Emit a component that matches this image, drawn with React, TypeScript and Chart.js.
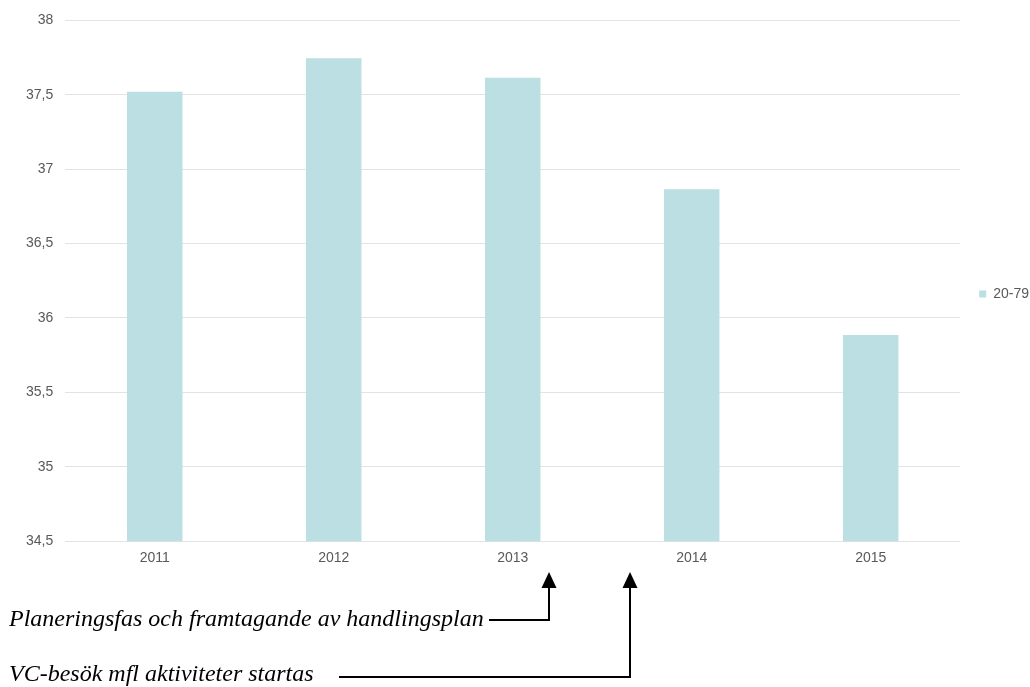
import React, { useEffect, useRef } from "react";
import { Chart, registerables } from "chart.js";

Chart.register(...registerables);

const categories = ["2011", "2012", "2013", "2014", "2015"];
const seriesName = "20-79";
const values = [37.52, 37.745, 37.615, 36.865, 35.885];
const yTicks = [34.5, 35, 35.5, 36, 36.5, 37, 37.5, 38];

const annotationTexts = [
  "Planeringsfas och framtagande av handlingsplan",
  "VC-besök mfl aktiviteter startas",
];
// arrow positions in category units (between 2013 and 2014)
const annotationAt = [2.205, 2.655];

const TEXT_COLOR = "#595959";
const FONT_FAMILY = "'Liberation Sans', Arial, sans-serif";

const annotationPlugin = {
  id: "annotations",
  afterDraw(chart: any) {
    const ctx = chart.ctx as CanvasRenderingContext2D;
    const xs = chart.scales.x;
    const x0 = xs.getPixelForValue(2);
    const x1 = xs.getPixelForValue(3);
    const layout = [
      { textY: 626, lineY: 620, lineStart: 489 },
      { textY: 681, lineY: 677, lineStart: 339 },
    ];
    const tipY = 572;
    ctx.save();
    ctx.font = "italic 24px 'Liberation Serif', 'Times New Roman', serif";
    ctx.fillStyle = "#000";
    ctx.strokeStyle = "#000";
    ctx.lineWidth = 2;
    annotationTexts.forEach((t, i) => {
      const L = layout[i];
      const at = annotationAt[i];
      const px = Math.round(x0 + (at - 2) * (x1 - x0));
      ctx.textBaseline = "alphabetic";
      ctx.textAlign = "left";
      ctx.fillText(t, 9, L.textY);
      ctx.beginPath();
      ctx.moveTo(L.lineStart, L.lineY);
      ctx.lineTo(px, L.lineY);
      ctx.lineTo(px, tipY + 14);
      ctx.stroke();
      ctx.beginPath();
      ctx.moveTo(px, tipY);
      ctx.lineTo(px - 7.5, tipY + 16);
      ctx.lineTo(px + 7.5, tipY + 16);
      ctx.closePath();
      ctx.fill();
    });
    ctx.restore();
  },
};

export default function App() {
  const ref = useRef<HTMLCanvasElement | null>(null);
  useEffect(() => {
    document.body.style.margin = "0";
    document.body.style.overflow = "hidden";
    const canvas = ref.current!;
    const chart = new Chart(canvas, {
      type: "bar",
      data: {
        labels: categories,
        datasets: [
          {
            label: seriesName,
            data: values,
            backgroundColor: "#bbdfe3",
            borderWidth: 0,
            categoryPercentage: 0.31,
            barPercentage: 1,
          },
        ],
      },
      options: {
        animation: false,
        responsive: false,
        layout: { padding: { top: 12, bottom: 111, left: 14, right: -9 } },
        scales: {
          x: {
            grid: { display: false, drawTicks: false },
            border: { display: false },
            ticks: {
              color: TEXT_COLOR,
              font: { size: 14, family: FONT_FAMILY },
              padding: 9,
            },
          },
          y: {
            min: 34.5,
            max: 38,
            afterBuildTicks: (axis: any) => {
              axis.ticks = yTicks.map((v) => ({ value: v }));
            },
            grid: { color: "#e3e3e3", drawTicks: false },
            border: { display: false },
            ticks: {
              color: TEXT_COLOR,
              font: { size: 14, family: FONT_FAMILY },
              padding: 12,
              callback: (v: any) => String(v).replace(".", ","),
            },
          },
        },
        plugins: {
          legend: {
            position: "right",
            labels: {
              boxWidth: 7,
              boxHeight: 7,
              padding: 19,
              color: TEXT_COLOR,
              font: { size: 14, family: FONT_FAMILY },
            },
          },
          tooltip: { enabled: false },
        },
      },
      plugins: [annotationPlugin],
    });
    return () => chart.destroy();
  }, []);
  return (
    <div style={{ width: 1030, height: 687 }}>
      <canvas ref={ref} width={1030} height={687} style={{ display: "block" }} />
    </div>
  );
}
